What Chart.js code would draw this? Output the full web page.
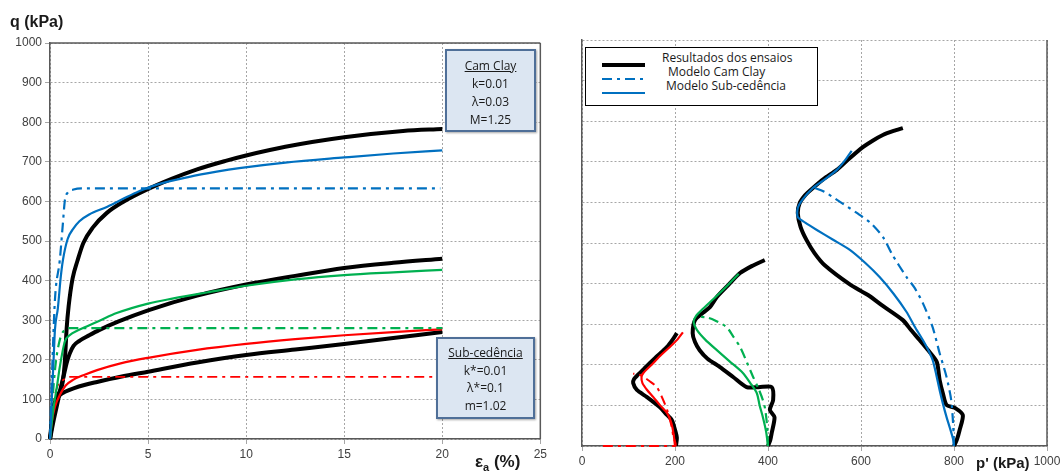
<!DOCTYPE html>
<html>
<head>
<meta charset="utf-8">
<script src="https://cdn.jsdelivr.net/npm/chart.js@4"></script>
<style>
  body { margin: 0; background: #fff; width: 1064px; height: 471px; position: relative; overflow: hidden; font-family: "Liberation Sans", Arial, sans-serif; }
  canvas { position: absolute; top: 0; }
  #left { left: 0; }
  #right { left: 560px; }
  .title { position: absolute; font-weight: bold; color: #1a1a1a; white-space: nowrap; }
  .box { position: absolute; box-sizing: border-box; background: #dce6f2; border: 2px solid #4f6f98; font-family: "Open Sans", sans-serif; font-size: 12px; color: #1a1a1a; text-align: center; box-shadow: 1px 1px 2px rgba(0,0,0,.35); }
  .box u { text-decoration: underline; }
  .legend { position: absolute; left: 585px; top: 47px; width: 233px; height: 59px; box-sizing: border-box; border: 1.5px solid #000; background: #fff; font-family: "Open Sans", sans-serif; font-size: 12px; color: #1a1a1a; }
  .legend div { position: absolute; white-space: nowrap; line-height: 14px; }
  .legend svg { position: absolute; }
</style>
</head>
<body>
<canvas id="left" width="550" height="471"></canvas>
<canvas id="right" width="504" height="471"></canvas>

<div class="title" style="left:10px; top:13px; font-size:16px;">q (kPa)</div>
<div class="title" style="left:475px; top:452px; font-size:17px;">ε<sub style="font-size:11px;">a</sub> (%)</div>
<div class="title" style="left:976px; top:454px; font-size:15px;">p' (kPa)</div>

<div class="box" style="left:445px; top:49px; width:91px; height:83px; padding-top:6px; line-height:18px;">
  <u>Cam Clay</u><br>k=0.01<br>λ=0.03<br>M=1.25
</div>
<div class="box" style="left:436px; top:337px; width:99px; height:82px; padding-top:5px; line-height:17.5px;">
  <u>Sub-cedência</u><br>k*=0.01<br>λ*=0.1<br>m=1.02
</div>

<div class="legend">
  <svg style="left:16px; top:0;" width="46" height="57">
    <line x1="0" y1="17" x2="43" y2="17" stroke="#000" stroke-width="4"/>
    <line x1="0" y1="31" x2="43" y2="31" stroke="#0070c0" stroke-width="2" stroke-dasharray="10,5,3,5"/>
    <line x1="0" y1="45" x2="43" y2="45" stroke="#0070c0" stroke-width="2"/>
  </svg>
  <div style="left:76px; top:3px;">Resultados dos ensaios</div>
  <div style="left:82px; top:17px;">Modelo Cam Clay</div>
  <div style="left:80px; top:31px;">Modelo Sub-cedência</div>
</div>

<script>
// ---- q x εa (painel esquerdo) ----
const ensaio800_ea = [0, 0.2, 0.4, 0.55, 0.65, 0.75, 0.85, 0.95, 1.15, 1.4, 1.7, 2.2, 2.9, 3.7, 4.9, 6.2, 7.5, 9, 10, 12, 15, 18, 20];
const ensaio800_q  = [0, 70, 110, 125, 145, 190, 280, 335, 405, 450, 495, 535, 571, 598, 629, 657, 681, 703, 716, 738, 762, 778, 783];
const sub800_ea = [0, 0.1, 0.2, 0.25, 0.4, 0.55, 0.66, 0.9, 1.2, 1.5, 2, 2.9, 4, 4.6, 5.5, 7.1, 8.5, 9.65, 12, 15, 17.5, 20];
const sub800_q  = [0, 110, 220, 275, 330, 410, 452, 505, 532, 550, 567, 586, 613, 627, 643, 662, 675, 684, 698, 711, 721, 729];
const cc800_ea = [0, 0.1, 0.25, 0.5, 0.65, 0.76, 0.9, 1.2, 1.6, 19.9];
const cc800_q  = [0, 160, 350, 452, 540, 603, 622, 630, 633, 633];

const ensaio400_ea = [0, 0.2, 0.4, 0.55, 0.7, 0.85, 1.0, 1.2, 1.5, 2, 2.5, 3.5, 5, 7.5, 10, 12.5, 15, 17.5, 20];
const ensaio400_q  = [0, 50, 95, 130, 160, 192, 215, 235, 248, 262, 275, 297, 325, 362, 390, 412, 432, 445, 455];
const sub400_ea = [0, 0.1, 0.2, 0.35, 0.5, 0.75, 1.0, 1.4, 1.9, 2.5, 3.4, 5, 6.3, 8, 10, 12.5, 15, 17.5, 20];
const sub400_q  = [0, 45, 85, 131, 182, 245, 262, 274, 285, 298, 318, 342, 355, 370, 387, 403, 414, 421, 427];
const cc400_ea = [0, 0.1, 0.2, 0.3, 0.45, 0.6, 0.8, 1.0, 20];
const cc400_q  = [0, 80, 145, 195, 240, 265, 277, 280, 280];

const ensaio200_ea = [0, 0.17, 0.35, 0.5, 0.8, 1.2, 1.8, 2.4, 3.6, 5, 7.5, 10, 12.5, 15, 17.5, 20];
const ensaio200_q  = [0, 81, 100, 111, 120, 128, 137, 144, 157, 170, 193, 212, 226, 240, 255, 270];
const sub200_ea = [0, 0.08, 0.25, 0.5, 0.8, 1.2, 1.8, 2.4, 3.6, 5, 7.5, 10, 12.5, 15, 17.5, 20];
const sub200_q  = [0, 40, 81, 111, 135, 150, 163, 174, 191, 205, 225, 240, 252, 262, 270, 277];
const cc200_ea = [0, 0.1, 0.2, 0.4, 0.7, 1.0, 20];
const cc200_q  = [0, 60, 100, 135, 150, 157, 157];

// ---- trajetórias q x p' (painel direito) ----
const traj800_p = [800, 806, 812, 819, 802, 784, 776, 769, 763, 745, 726, 708, 690, 647, 615, 576, 522, 500, 483, 470, 464, 468, 480, 496, 520, 548, 575, 604, 625, 647, 670, 690];
const traj800_q = [0, 15, 39, 76, 94, 101, 130, 163, 207, 235, 261, 285, 310, 345, 372, 398, 445, 475, 507, 540, 574, 598, 618, 635, 658, 680, 708, 736, 752, 766, 776, 783];
const trajSub800_p = [800, 798, 791, 784, 776, 769, 762, 754, 743, 733, 715, 698, 670, 640, 610, 576, 540, 505, 480, 464, 464, 475, 496, 520, 548, 565, 580];
const trajSub800_q = [0, 17, 45, 71, 105, 138, 175, 212, 240, 261, 295, 330, 375, 416, 450, 483, 508, 532, 550, 564, 586, 608, 635, 655, 680, 703, 727];
const trajCC800_p = [800, 799, 798, 794, 784, 769, 754, 733, 715, 698, 668, 647, 620, 591, 550, 520, 497];
const trajCC800_q = [0, 30, 57, 113, 170, 229, 293, 352, 390, 416, 470, 515, 550, 574, 605, 627, 637];

const traj400_p = [400, 405, 408, 414, 404, 411, 408, 380, 354, 325, 296, 270, 253, 243, 238, 243, 260, 275, 290, 315, 340, 365, 393];
const traj400_q = [0, 15, 32, 71, 89, 113, 145, 145, 145, 170, 195, 215, 236, 256, 278, 310, 328, 342, 367, 397, 426, 443, 458];
const trajSub400_p = [400, 396, 389, 382, 376, 362, 346, 318, 290, 265, 247, 240, 245, 260, 290, 315, 337];
const trajSub400_q = [0, 35, 71, 100, 130, 155, 180, 208, 236, 262, 286, 305, 320, 338, 370, 398, 424];
const trajCC400_p = [400, 398, 394, 389, 380, 368, 355, 340, 325, 311, 285, 268, 249];
const trajCC400_q = [0, 50, 90, 113, 140, 170, 205, 244, 270, 293, 310, 317, 318];

const traj200_p = [202, 204, 200, 193, 180, 167, 139, 118, 110, 112, 120, 135, 153, 168, 183, 195, 204];
const traj200_q = [0, 20, 40, 64, 80, 96, 121, 138, 155, 165, 175, 192, 212, 228, 244, 262, 278];
const trajSub200_p = [200, 197, 192, 183, 168, 153, 140, 130, 128, 132, 153, 170, 189, 205, 217];
const trajSub200_q = [0, 30, 57, 81, 100, 121, 138, 155, 170, 180, 204, 224, 244, 262, 280];
const trajCC200_p = [45, 200, 196, 193, 183, 172, 161, 145, 130, 120, 110];
const trajCC200_q = [0, 0, 25, 47, 89, 120, 145, 160, 172, 177, 178];

const xTicksLeft = [0, 5, 10, 15, 20, 25];
const xTicksRight = [0, 200, 400, 600, 800, 1000];

const PRETO = '#000000', AZUL = '#0070c0', VERDE = '#00b050', VERMELHO = '#ff0000';
const TRACO_PONTO = [10, 5, 3, 5];

function serie(xs, ys, color, width, dash, curva) {
    const ds = {
        data: xs.map((x, i) => ({ x: x, y: ys[i] })),
        showLine: true,
        borderColor: color,
        borderWidth: width,
        borderDash: dash || [],
        pointRadius: 0,
        fill: false,
        clip: 4
    };
    if (curva === 'mono') ds.cubicInterpolationMode = 'monotone';
    else ds.tension = 0.25;
    return ds;
}

// moldura da área do gráfico
const moldura = {
    id: 'moldura',
    beforeDatasetsDraw(chart, args, opts) {
        const a = chart.chartArea, ctx = chart.ctx;
        ctx.save();
        ctx.strokeStyle = '#595959';
        ctx.lineWidth = 1.5;
        ctx.beginPath();
        if (opts.full) {
            ctx.moveTo(a.left, a.top);
            ctx.lineTo(a.right, a.top);
        }
        ctx.moveTo(a.right, a.top);
        ctx.lineTo(a.right, a.bottom);
        ctx.stroke();
        ctx.restore();
    }
};

const tickFont = { family: '"Liberation Sans", Arial, sans-serif', size: 12 };
const gridOpts = { color: '#a6a6a6', lineWidth: 1, tickLength: 5, tickColor: '#a6a6a6' };
const borderOpts = { color: '#595959', width: 1.5, dash: [2, 2] };
const semVirgula = v => String(v);

// Painel esquerdo: q x εa
new Chart(document.getElementById('left'), {
    type: 'scatter',
    data: {
        datasets: [
            serie(cc800_ea, cc800_q, AZUL, 2.2, TRACO_PONTO, 'mono'),
            serie(sub800_ea, sub800_q, AZUL, 2.2, null, 'mono'),
            serie(cc400_ea, cc400_q, VERDE, 2.2, TRACO_PONTO, 'mono'),
            serie(sub400_ea, sub400_q, VERDE, 2.2, null, 'mono'),
            serie(cc200_ea, cc200_q, VERMELHO, 1.6, TRACO_PONTO, 'mono'),
            serie(sub200_ea, sub200_q, VERMELHO, 2.2, null, 'mono'),
            serie(ensaio800_ea, ensaio800_q, PRETO, 4, null, 'mono'),
            serie(ensaio400_ea, ensaio400_q, PRETO, 4, null, 'mono'),
            serie(ensaio200_ea, ensaio200_q, PRETO, 4, null, 'mono')
        ]
    },
    options: {
        responsive: false,
        animation: false,
        events: [],
        layout: { padding: { top: 43, right: 8, left: 0, bottom: 0 } },
        plugins: { legend: { display: false }, tooltip: { enabled: false }, moldura: { full: true } },
        scales: {
            x: {
                type: 'linear', min: 0, max: 25,
                afterBuildTicks: s => { s.ticks = xTicksLeft.map(v => ({ value: v })); },
                ticks: { color: '#404040', font: tickFont, padding: 3, maxRotation: 0, callback: semVirgula },
                grid: gridOpts, border: borderOpts,
                afterFit: s => { s.height = 32; }
            },
            y: {
                min: 0, max: 1000,
                ticks: { stepSize: 100, color: '#404040', font: tickFont, padding: 3, callback: semVirgula },
                grid: gridOpts, border: borderOpts,
                afterFit: s => { s.width = 50; }
            }
        }
    },
    plugins: [moldura]
});

// Painel direito: q x p'
new Chart(document.getElementById('right'), {
    type: 'scatter',
    data: {
        datasets: [
            serie(trajCC800_p, trajCC800_q, AZUL, 2.2, TRACO_PONTO),
            serie(trajSub800_p, trajSub800_q, AZUL, 2.2),
            serie(trajCC400_p, trajCC400_q, VERDE, 2.2, TRACO_PONTO),
            serie(trajSub400_p, trajSub400_q, VERDE, 2.2),
            serie(trajCC200_p, trajCC200_q, VERMELHO, 2, TRACO_PONTO),
            serie(trajSub200_p, trajSub200_q, VERMELHO, 2.2),
            serie(traj800_p, traj800_q, PRETO, 4),
            serie(traj400_p, traj400_q, PRETO, 4),
            serie(traj200_p, traj200_q, PRETO, 4)
        ]
    },
    options: {
        responsive: false,
        animation: false,
        events: [],
        layout: { padding: { top: 40, right: 17, left: 0, bottom: 0 } },
        plugins: { legend: { display: false }, tooltip: { enabled: false }, moldura: { full: false } },
        scales: {
            x: {
                type: 'linear', min: 0, max: 1000,
                afterBuildTicks: s => { s.ticks = xTicksRight.map(v => ({ value: v })); },
                ticks: { color: '#404040', font: tickFont, padding: 3, maxRotation: 0, callback: semVirgula },
                grid: gridOpts, border: borderOpts,
                afterFit: s => { s.height = 25; }
            },
            y: {
                min: 0, max: 1000,
                ticks: { stepSize: 100, display: false },
                grid: Object.assign({}, gridOpts, { drawTicks: false }), border: borderOpts,
                afterFit: s => { s.width = 22; }
            }
        }
    },
    plugins: [moldura]
});
</script>
</body>
</html>
